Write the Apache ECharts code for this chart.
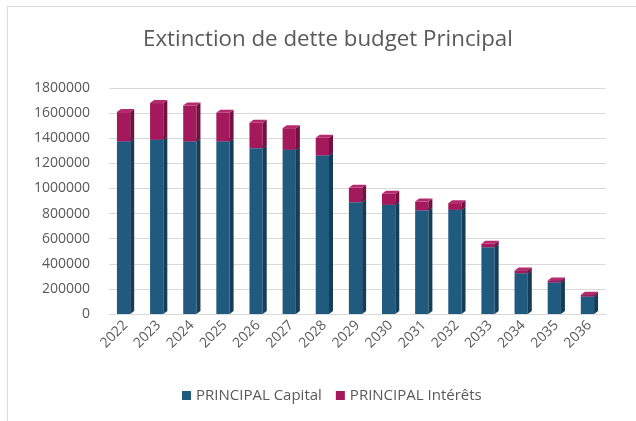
<!DOCTYPE html>
<html><head><meta charset="utf-8">
<script src="https://cdn.jsdelivr.net/npm/echarts@6/dist/echarts.min.js"></script>
<style>
html,body{margin:0;padding:0;background:#fff;}
#frame{position:absolute;left:7px;top:6px;width:660px;height:440px;border:1px solid #d9d9d9;box-sizing:border-box;}
#c{position:absolute;left:0;top:0;width:636px;height:421px;}
</style></head>
<body>
<div id="frame"></div>
<div id="c"></div>
<script>
var years = ['2022','2023','2024','2025','2026','2027','2028','2029','2030','2031','2032','2033','2034','2035','2036'];
var capital = [1374000,1388000,1374000,1374000,1321000,1308000,1263000,891000,870000,825000,830000,532000,325000,251000,139000];
var interets = [234000,292000,287000,229000,202000,172000,141000,114000,88000,71000,53000,27000,22000,16000,14000];
var yTicks = {min:0, max:1800000, interval:200000};

var chart = echarts.init(document.getElementById('c'));
var FONT = '"Open Sans", sans-serif';

function shade(front, side, top){
  return function(params, api){
    var i = api.value(0);
    var lo = api.value(1), hi = api.value(2);
    var a = api.coord([i, lo]);
    var b = api.coord([i, hi]);
    var band = api.size([1,0])[0];
    var w = band*0.40, d = 4, dy = 3;
    var x0 = a[0] - w/2 - 2;
    var x1 = x0 + w;
    var yb = a[1], yt = b[1];
    return {type:'group', children:[
      {type:'rect', shape:{x:x0, y:yt, width:w, height:yb-yt}, style:{fill:front}},
      {type:'polygon', shape:{points:[[x1,yt],[x1+d,yt-dy],[x1+d,yb-dy],[x1,yb]]}, style:{fill:side}},
      {type:'polygon', shape:{points:[[x0,yt],[x0+d,yt-dy],[x1+d,yt-dy],[x1,yt]]}, style:{fill:top}}
    ]};
  };
}

var capData = years.map(function(y,i){return [i, 0, capital[i]];});
var intData = years.map(function(y,i){return [i, capital[i], capital[i]+interets[i]];});

chart.setOption({
  animation:false,
  color:['#215A7F','#A3195B'],
  title:{text:'Extinction de dette budget Principal', left:138, top:24,
    textStyle:{fontFamily:FONT, fontSize:22.3, fontWeight:'normal', color:'#595959'}},
  grid:{left:109, right:30, top:88, bottom:107},
  legend:{bottom:13, left:177, itemWidth:9, itemHeight:9, itemGap:14,
    icon:'rect', textStyle:{fontFamily:FONT, fontSize:15, color:'#595959'},
    data:['PRINCIPAL Capital','PRINCIPAL Intérêts']},
  xAxis:{type:'category', data:years,
    axisLine:{show:true, lineStyle:{color:'#d9d9d9'}}, axisTick:{show:false},
    axisLabel:{rotate:45, margin:9, fontFamily:FONT, fontSize:14, color:'#595959'}},
  yAxis:{type:'value', min:yTicks.min, max:yTicks.max, interval:yTicks.interval,
    axisLine:{show:false}, axisTick:{show:false},
    splitLine:{lineStyle:{color:'#d9d9d9', width:1}},
    axisLabel:{margin:19, fontFamily:FONT, fontSize:14, color:'#595959',
      formatter:function(v){return String(v);}}},
  series:[
    {name:'PRINCIPAL Capital', type:'custom', renderItem:shade('#215A7F','#163D58','#2C6A93'),
      data:capData, encode:{x:0, y:[1,2]}, itemStyle:{color:'#215A7F'}},
    {name:'PRINCIPAL Intérêts', type:'custom', renderItem:shade('#A3195B','#74103F','#B42A6C'),
      data:intData, encode:{x:0, y:[1,2]}, itemStyle:{color:'#A3195B'}}
  ]
});
</script>
</body></html>
